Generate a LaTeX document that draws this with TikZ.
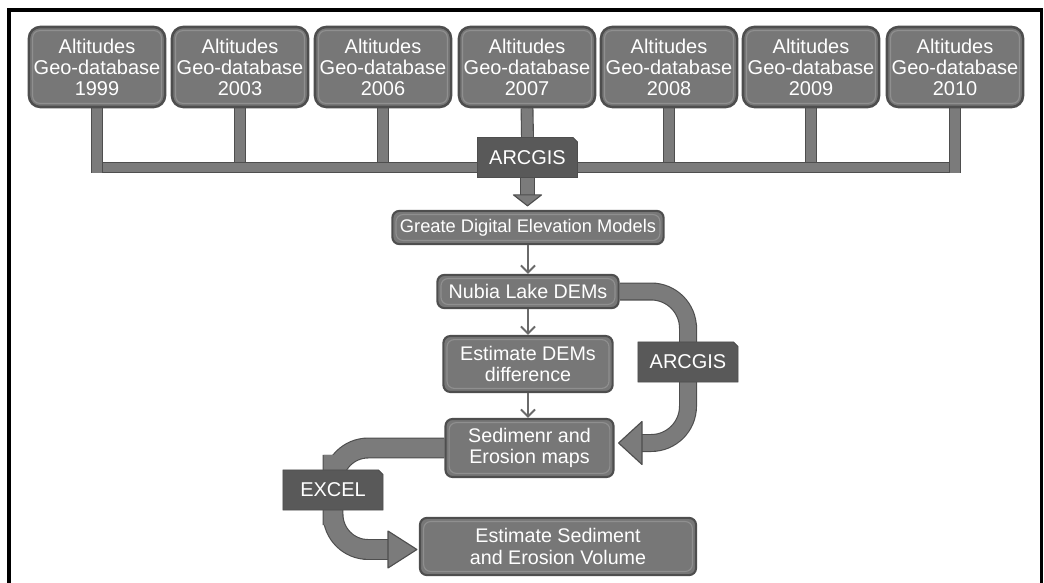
\documentclass[tikz,border=0pt]{standalone}
\usepackage{fontspec}
\setmainfont{Liberation Sans}
\usetikzlibrary{arrows.meta,calc,shapes.misc,backgrounds}
\definecolor{boxgray}{HTML}{777777}
\definecolor{edgegray}{HTML}{4E4E4E}
\definecolor{rimgray}{HTML}{8F8F8F}
\definecolor{taggray}{HTML}{595959}
\definecolor{pipegray}{HTML}{7B7B7B}
\definecolor{thingray}{HTML}{6A6A6A}
\begin{document}
\begin{tikzpicture}[x=0.025cm,y=-0.025cm,
        geobox/.style={draw=edgegray,line width=1.8pt,fill=boxgray,rounded corners=8pt,text=white,align=center,
          inner sep=0pt,minimum width=3.4cm,minimum height=2cm,font=\fontsize{14.2}{15}\selectfont,
          path picture={\draw[rimgray,line width=0.8pt,rounded corners=5pt]
            ([shift={(2.6pt,-2.6pt)}]path picture bounding box.north west) rectangle
            ([shift={(-2.6pt,2.6pt)}]path picture bounding box.south east);}},
        flowbox/.style={geobox,rounded corners=5pt,line width=1.5pt,font=\fontsize{14}{15}\selectfont},
        tagbox/.style={chamfered rectangle,chamfered rectangle corners=north east,chamfered rectangle xsep=1.6pt,
          chamfered rectangle ysep=1.6pt,fill=taggray,draw=edgegray,line width=0.6pt,text=white,inner sep=0pt,
          minimum width=2.5cm,minimum height=1cm,font=\fontsize{14.2}{15}\selectfont},
        pipe/.style={draw=edgegray,line width=0.8pt,double=pipegray},
        fathead/.style={fill=pipegray,draw=edgegray,line width=0.8pt,line join=round},
        thinarrow/.style={draw=thingray,line width=1.4pt,-{Straight Barb[length=5pt,width=10pt]}}]
        \useasboundingbox (0,0) rectangle (1044,583);
        \draw[line width=2.2pt] (9,583) -- (9,10) -- (1041.5,10) -- (1041.5,583);

        \node[geobox] (b1) at (97,67) {Altitudes\\Geo-database\\1999};
        \node[geobox] (b2) at (240,67) {Altitudes\\Geo-database\\2003};
        \node[geobox] (b3) at (383,67) {Altitudes\\Geo-database\\2006};
        \node[geobox] (b4) at (527,67) {Altitudes\\Geo-database\\2007};
        \node[geobox] (b5) at (669,67) {Altitudes\\Geo-database\\2008};
        \node[geobox] (b6) at (811,67) {Altitudes\\Geo-database\\2009};
        \node[geobox] (b7) at (955,67) {Altitudes\\Geo-database\\2010};
        \coordinate (bar) at (0,167.5); \coordinate (barbot) at (0,173);

        \node[tagbox] (arc1) at (527.5,157.5) {ARCGIS};
        \node[flowbox,minimum width=6.78cm,minimum height=0.83cm,font=\fontsize{13}{15}\selectfont] (gdem) at (528,227.5) {Greate Digital Elevation Models};
        \node[flowbox,minimum width=4.53cm,minimum height=0.83cm] (nubia) at (528,291.5) {Nubia Lake DEMs};
        \node[flowbox,minimum width=4.23cm,minimum height=1.4cm] (edd) at (528,364) {Estimate DEMs\\difference};
        \node[flowbox,minimum width=4.2cm,minimum height=1.45cm] (sed) at (529.5,448) {Sedimenr and\\Erosion maps};
        \node[flowbox,minimum width=6.9cm,minimum height=1.43cm] (esv) at (558,546.5) {Estimate Sediment\\and Erosion Volume};
        \node[tagbox] (arc2) at (688,362) {ARCGIS};
        \node[tagbox] (excel) at (333,490) {EXCEL};
        \coordinate (rhead) at (642,443); \coordinate (lhead) at (388,549.5);

        \begin{scope}[on background layer]
          \draw[pipe,double distance=7.6pt] (b2.south) -- (b2.south |- bar);
          \draw[pipe,double distance=7.6pt] (b3.south) -- (b3.south |- bar);
          \draw[pipe,double distance=7.6pt] (b5.south) -- (b5.south |- bar);
          \draw[pipe,double distance=7.6pt] (b6.south) -- (b6.south |- bar);
          \draw[pipe,double distance=7.6pt] (b4.south) -- (arc1.north);
          \draw[pipe,double distance=6.2pt] (b1.south |- bar) -- (b7.south |- bar);
          \draw[pipe,double distance=7.6pt] (b1.south) -- (b1.south |- barbot);
          \draw[pipe,double distance=7.6pt] (b7.south) -- (b7.south |- barbot);

          \draw[pipe,double distance=9.1pt] (arc1.south) -- ++(0,19);
          \filldraw[fathead] ($(arc1.south)+(-14,17)$) -- ($(arc1.south)+(14,17)$) -- ($(gdem.north)+(-0.5,-4)$) -- cycle;

          \draw[pipe,double distance=11.2pt,rounded corners=0.92cm] (nubia.east) -| (arc2.center) |- ($(rhead)+(-3,0)$);
          \filldraw[fathead] ($(rhead)+(0,-21.5)$) -- ($(rhead)+(0,21.5)$) -- ($(sed.east)+(4,-5)$) -- cycle;

          \draw[pipe,double distance=13.3pt,rounded corners=0.88cm] (sed.west) -| (excel.center) |- ($(lhead)+(3,0)$);
          \filldraw[fathead] ($(lhead)+(0,-18.5)$) -- ($(lhead)+(0,18.5)$) -- ($(esv.west)+(-2,3)$) -- cycle;
        \end{scope}

        \draw[thinarrow] (gdem.south) -- (nubia.north);
        \draw[thinarrow] (nubia.south) -- (edd.north);
        \draw[thinarrow] (edd.south) -- (edd.south |- sed.north);
      \end{tikzpicture}
\end{document}
